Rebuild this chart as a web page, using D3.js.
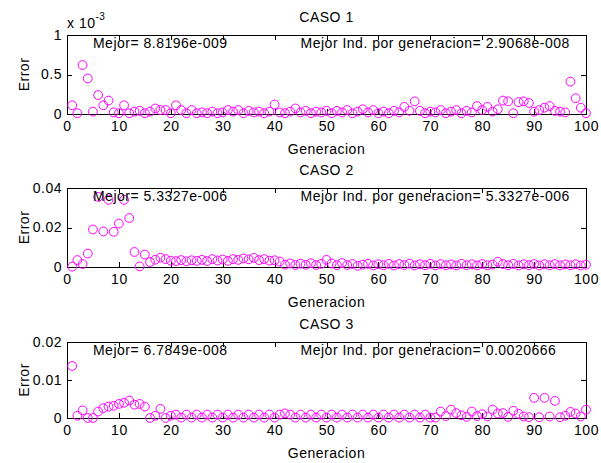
<!DOCTYPE html>
<html>
<head>
<meta charset="utf-8">
<script src="https://cdn.jsdelivr.net/npm/d3@7"></script>
<style>
  html, body { margin: 0; padding: 0; background: #fff; }
  svg text { font-family: "Liberation Sans", Arial, Helvetica, sans-serif; font-size: 14px; letter-spacing: 0.5px; fill: #000; }
</style>
</head>
<body>
<svg id="chart" width="601" height="463"></svg>
<script>
// Generations 1..100
const generaciones = d3.range(1, 101);

// CASO 1: error per generation, in units of 1e-3 (axis carries the x 10^-3 factor)
const caso1 = [
  0.11, 0.01, 0.62, 0.45, 0.03, 0.24, 0.11, 0.17, 0.02, 0.01,
  0.11, 0.01, 0.03, 0.04, 0.01, 0.03, 0.07, 0.05, 0.05, 0.01,
  0.11, 0.05, 0.01, 0.05, 0.01, 0.02, 0.01, 0.03, 0.01, 0.02,
  0.05, 0.03, 0.05, 0.01, 0.04, 0.02, 0.03, 0.01, 0.03, 0.12,
  0.02, 0.01, 0.03, 0.07, 0.02, 0.04, 0.01, 0.03, 0.02, 0.04,
  0.01, 0.04, 0.02, 0.05, 0.01, 0.03, 0.06, 0.02, 0.05, 0.01,
  0.03, 0.01, 0.04, 0.02, 0.09, 0.04, 0.16, 0.04, 0.01, 0.03,
  0.02, 0.05, 0.01, 0.03, 0.05, 0.01, 0.04, 0.02, 0.10, 0.05,
  0.09, 0.03, 0.06, 0.17, 0.16, 0.01, 0.15, 0.16, 0.14, 0.03,
  0.05, 0.08, 0.10, 0.04, 0.03, 0.02, 0.41, 0.20, 0.08, 0.01
];

// CASO 2: error per generation
const caso2 = [
  0.0002, 0.0035, 0.0015, 0.0068, 0.0190, 0.0355, 0.0180, 0.0340, 0.0178, 0.0220,
  0.0340, 0.0248, 0.0076, 0.0003, 0.0063, 0.0025, 0.0037, 0.0047, 0.0040, 0.0032,
  0.0030, 0.0035, 0.0029, 0.0034, 0.0031, 0.0036, 0.0030, 0.0040, 0.0033, 0.0038,
  0.0031, 0.0040, 0.0036, 0.0043, 0.0039, 0.0046, 0.0035, 0.0040, 0.0032, 0.0034,
  0.0028, 0.0012, 0.0018, 0.0010, 0.0017, 0.0011, 0.0019, 0.0010, 0.0016, 0.0036,
  0.0018, 0.0009, 0.0020, 0.0010, 0.0015, 0.0006, 0.0012, 0.0016, 0.0008, 0.0014,
  0.0009, 0.0016, 0.0008, 0.0015, 0.0010, 0.0017, 0.0008, 0.0014, 0.0009, 0.0016,
  0.0008, 0.0015, 0.0009, 0.0013, 0.0008, 0.0016, 0.0009, 0.0014, 0.0008, 0.0015,
  0.0009, 0.0012, 0.0027, 0.0015, 0.0009, 0.0016, 0.0008, 0.0014, 0.0009, 0.0015,
  0.0008, 0.0014, 0.0009, 0.0015, 0.0008, 0.0013, 0.0009, 0.0014, 0.0008, 0.0012
];

// CASO 3: error per generation
const caso3 = [
  0.0137, 0.0006, 0.0020, 0.0000, 0.0000, 0.0017, 0.0026, 0.0030, 0.0032, 0.0037,
  0.0040, 0.0046, 0.0035, 0.0037, 0.0030, 0.0000, 0.0006, 0.0024, 0.0000, 0.0006,
  0.0009, 0.0001, 0.0009, 0.0001, 0.0009, 0.0001, 0.0009, 0.0001, 0.0009, 0.0001,
  0.0009, 0.0001, 0.0009, 0.0001, 0.0009, 0.0001, 0.0009, 0.0001, 0.0009, 0.0001,
  0.0009, 0.0012, 0.0009, 0.0001, 0.0009, 0.0001, 0.0009, 0.0001, 0.0009, 0.0001,
  0.0009, 0.0001, 0.0009, 0.0001, 0.0009, 0.0001, 0.0009, 0.0001, 0.0009, 0.0001,
  0.0009, 0.0001, 0.0009, 0.0001, 0.0009, 0.0001, 0.0009, 0.0001, 0.0009, 0.0001,
  0.0001, 0.0017, 0.0005, 0.0022, 0.0013, 0.0007, 0.0003, 0.0017, 0.0005, 0.0010,
  0.0004, 0.0022, 0.0012, 0.0013, 0.0003, 0.0019, 0.0011, 0.0004, 0.0002, 0.0053,
  0.0002, 0.0053, 0.0004, 0.0045, 0.0002, 0.0006, 0.0016, 0.0012, 0.0004, 0.0022
];

const titulos = ["CASO 1", "CASO 2", "CASO 3"];
const yMaximos = [1, 0.04, 0.02];
const yTicks = [[0, 0.5, 1], [0, 0.02, 0.04], [0, 0.01, 0.02]];
const yTickLabels = [["0", "0.5", "1"], ["0", "0.02", "0.04"], ["0", "0.01", "0.02"]];
const xTicks = d3.range(0, 101, 10);
const xTickLabels = xTicks.map(String);
const mejor = ["8.8196e-009", "5.3327e-006", "6.7849e-008"];
const mejorInd = ["2.9068e-008", "5.3327e-006", "0.0020666"];
const series = [caso1, caso2, caso3];

// Layout of the three stacked axes
const left = 67, right = 586;
const layout = [
  { top: 35, bottom: 114 },
  { top: 188, bottom: 267 },
  { top: 342, bottom: 418 }
];
const magenta = "#ff00ff";
const tickLen = 5;

const svg = d3.select("#chart");

series.forEach((values, i) => {
  const { top, bottom } = layout[i];
  const x = d3.scaleLinear().domain([0, 100]).range([left, right]);
  const y = d3.scaleLinear().domain([0, yMaximos[i]]).range([bottom, top]);
  const g = svg.append("g");

  // Axes box
  g.append("rect")
    .attr("x", left).attr("y", top)
    .attr("width", right - left).attr("height", bottom - top)
    .attr("fill", "#fff").attr("stroke", "#000").attr("stroke-width", 1)
    .attr("shape-rendering", "crispEdges");

  // Bottom axis with labels, inward ticks
  const ax = g.append("g").attr("transform", `translate(0,${bottom})`)
    .call(d3.axisBottom(x).tickValues(xTicks)
      .tickFormat((d, k) => xTickLabels[k])
      .tickSizeInner(-tickLen).tickSizeOuter(0).tickPadding(7));
  // Top axis, ticks only
  const axT = g.append("g").attr("transform", `translate(0,${top})`)
    .call(d3.axisTop(x).tickValues(xTicks).tickFormat("")
      .tickSizeInner(-tickLen).tickSizeOuter(0));
  // Left axis with labels
  const ay = g.append("g").attr("transform", `translate(${left},0)`)
    .call(d3.axisLeft(y).tickValues(yTicks[i])
      .tickFormat((d, k) => yTickLabels[i][k])
      .tickSizeInner(-tickLen).tickSizeOuter(0).tickPadding(5));
  // Right axis, ticks only
  const ayR = g.append("g").attr("transform", `translate(${right},0)`)
    .call(d3.axisRight(y).tickValues(yTicks[i]).tickFormat("")
      .tickSizeInner(-tickLen).tickSizeOuter(0));

  [ax, axT, ay, ayR].forEach(a => {
    a.select(".domain").remove();
    a.selectAll("line").attr("stroke", "#000").attr("shape-rendering", "crispEdges");
    a.selectAll("text").attr("font-family", null).attr("font-size", null).attr("fill", "#000");
  });
  g.selectAll(".tick text").style("font-size", "14px");

  // Markers
  g.append("g").selectAll("circle")
    .data(values.map((v, k) => [generaciones[k], v]))
    .join("circle")
    .attr("cx", d => x(d[0]))
    .attr("cy", d => y(d[1]))
    .attr("r", 4.4)
    .attr("fill", "none")
    .attr("stroke", magenta)
    .attr("stroke-width", 1);

  // Annotations inside the axes
  g.append("text")
    .attr("x", x(5)).attr("y", y(0.9 * yMaximos[i])).attr("dy", "0.36em")
    .text(`Mejor= ${mejor[i]}`);
  g.append("text")
    .attr("x", x(45)).attr("y", y(0.9 * yMaximos[i])).attr("dy", "0.36em")
    .text(`Mejor Ind. por generacion= ${mejorInd[i]}`);

  // Title
  g.append("text")
    .attr("x", (left + right) / 2).attr("y", top - 13)
    .attr("text-anchor", "middle")
    .text(titulos[i]);

  // X label
  g.append("text")
    .attr("x", (left + right) / 2).attr("y", bottom + 40)
    .attr("text-anchor", "middle")
    .text("Generacion");

  // Y label
  g.append("text")
    .attr("transform", `translate(29,${(top + bottom) / 2}) rotate(-90)`)
    .attr("text-anchor", "middle")
    .text("Error");

  // Exponent factor on the first axes
  if (i === 0) {
    const t = g.append("text").attr("x", left).attr("y", top - 7);
    t.append("tspan").text("x 10");
    t.append("tspan").attr("dy", -8).style("font-size", "10px").text("-3");
  }
});
</script>
</body>
</html>
